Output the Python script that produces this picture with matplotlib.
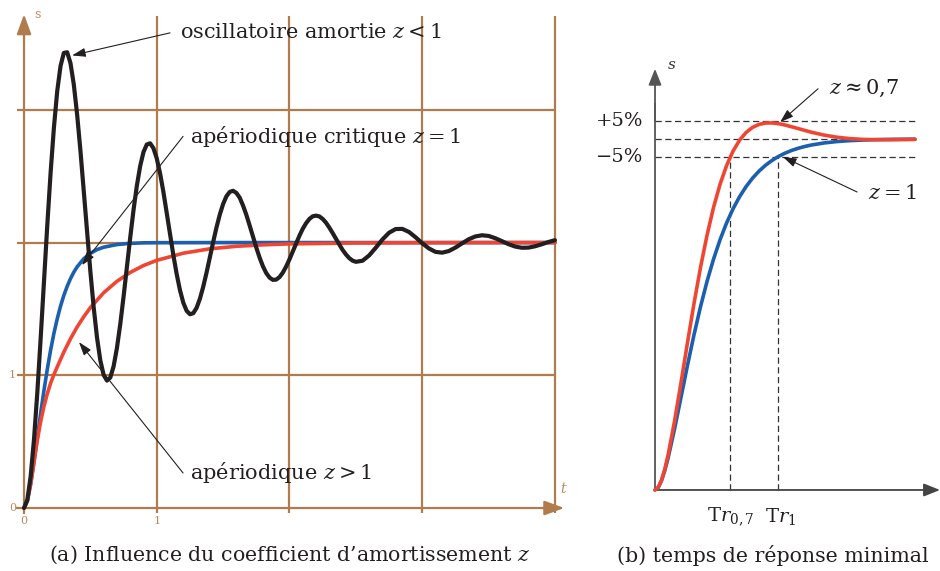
import matplotlib
matplotlib.use("Agg")
import matplotlib.pyplot as plt

plt.rcParams['font.family'] = ['DejaVu Serif']
plt.rcParams['mathtext.fontset'] = 'dejavuserif'

# ---- (a) step responses, t in s, s(t) with final value 2 ----
t_osc = [0.0, 0.025, 0.05, 0.075, 0.1, 0.125, 0.15, 0.175, 0.2, 0.225, 0.25,
         0.275, 0.3, 0.325, 0.35, 0.375, 0.4, 0.425, 0.45, 0.475, 0.5,
         0.525, 0.55, 0.575, 0.6, 0.625, 0.65, 0.675, 0.7, 0.725, 0.75,
         0.775, 0.8, 0.825, 0.85, 0.875, 0.9, 0.925, 0.95, 0.975, 1.0,
         1.025, 1.05, 1.075, 1.1, 1.125, 1.15, 1.175, 1.2, 1.225, 1.25,
         1.275, 1.3, 1.325, 1.35, 1.375, 1.4, 1.425, 1.45, 1.475, 1.5,
         1.525, 1.55, 1.575, 1.6, 1.625, 1.65, 1.675, 1.7, 1.725, 1.75,
         1.775, 1.8, 1.825, 1.85, 1.875, 1.9, 1.925, 1.95, 1.975, 2.0,
         2.025, 2.05, 2.075, 2.1, 2.125, 2.15, 2.175, 2.2, 2.225, 2.25,
         2.275, 2.3, 2.325, 2.35, 2.375, 2.4, 2.425, 2.45, 2.475, 2.5,
         2.55, 2.6, 2.65, 2.7, 2.75, 2.8, 2.85, 2.9, 2.95, 3.0,
         3.05, 3.1, 3.15, 3.2, 3.25, 3.3, 3.35, 3.4, 3.45, 3.5,
         3.55, 3.6, 3.65, 3.7, 3.75, 3.8, 3.85, 3.9, 3.95, 4.0]
s_osc = [0.000, 0.062, 0.239, 0.515, 0.868, 1.273, 1.702, 2.127, 2.523, 2.864, 3.140,
         3.330, 3.429, 3.434, 3.352, 3.191, 2.965, 2.692, 2.390, 2.081, 1.781,
         1.510, 1.283, 1.111, 1.002, 0.960, 0.983, 1.068, 1.206, 1.385, 1.593,
         1.815, 2.037, 2.246, 2.428, 2.576, 2.682, 2.739, 2.748, 2.711, 2.634,
         2.521, 2.382, 2.224, 2.063, 1.906, 1.763, 1.641, 1.547, 1.486, 1.460,
         1.468, 1.508, 1.576, 1.667, 1.773, 1.888, 2.004, 2.114, 2.211, 2.291,
         2.349, 2.382, 2.390, 2.374, 2.338, 2.279, 2.209, 2.128, 2.044, 1.962,
         1.886, 1.821, 1.770, 1.736, 1.719, 1.721, 1.740, 1.774, 1.820, 1.874,
         1.934, 1.994, 2.052, 2.104, 2.146, 2.178, 2.198, 2.203, 2.197, 2.178,
         2.150, 2.113, 2.072, 2.029, 1.986, 1.945, 1.911, 1.883, 1.864, 1.855,
         1.863, 1.903, 1.961, 2.023, 2.074, 2.102, 2.103, 2.080, 2.040, 1.995,
         1.956, 1.930, 1.924, 1.936, 1.962, 1.994, 2.025, 2.046, 2.055, 2.050,
         2.033, 2.011, 1.988, 1.970, 1.961, 1.962, 1.972, 1.987, 2.004, 2.018]

t_crit = [0.0, 0.025, 0.05, 0.075, 0.1, 0.125, 0.15, 0.175, 0.2, 0.225, 0.25,
          0.275, 0.3, 0.325, 0.35, 0.375, 0.4, 0.45, 0.5, 0.55, 0.6, 0.7,
          0.8, 0.9, 1.0, 1.5, 2.0, 3.0, 4.0]
s_crit = [0.0, 0.053, 0.180, 0.347, 0.528, 0.711, 0.884, 1.044, 1.188, 1.315, 1.425,
          1.521, 1.602, 1.670, 1.728, 1.777, 1.817, 1.878, 1.919, 1.947, 1.965, 1.985,
          1.994, 1.998, 1.999, 2.0, 2.0, 2.0, 2.0]

t_aper = [0.0, 0.025, 0.05, 0.075, 0.1, 0.125, 0.15, 0.175, 0.2, 0.225, 0.25,
          0.3, 0.35, 0.4, 0.45, 0.5, 0.6, 0.7, 0.8, 0.9, 1.0, 1.2, 1.4, 1.6,
          1.8, 2.0, 2.5, 3.0, 3.5, 4.0]
s_aper = [0.0, 0.053, 0.18, 0.345, 0.51, 0.65, 0.765, 0.86, 0.94, 1.005, 1.063,
          1.175, 1.275, 1.364, 1.441, 1.51, 1.622, 1.708, 1.775, 1.827, 1.866, 1.920,
          1.953, 1.972, 1.983, 1.990, 1.997, 1.999, 2.0, 2.0]

grid_t = [1, 2, 3, 4]
grid_s = [1, 2, 3]
xtick_labels = ['0', '1']
ytick_labels = ['0', '1']

# ---- (b) normalised responses vs wn*t ----
a_vals = [0.0, 0.125, 0.25, 0.375, 0.5, 0.75, 1.0, 1.25, 1.5, 1.75, 2.0, 2.25, 2.5, 2.75, 3.0,
          3.25, 3.5, 3.75, 4.0, 4.25, 4.5, 4.75, 5.0, 5.25, 5.5, 5.75, 6.0,
          6.5, 7.0, 7.5, 8.0, 8.5, 9.0, 9.5, 10.0]
s_z07 = [0.0, 0.0074, 0.0277, 0.0592, 0.0984, 0.1954, 0.3059, 0.4202, 0.5313, 0.6341, 0.7256, 0.8048,
         0.8706, 0.9237, 0.9653, 0.9964, 1.0184, 1.0330, 1.0416, 1.0454, 1.0458, 1.0436,
         1.0398, 1.0349, 1.0298, 1.0246, 1.0196, 1.0111, 1.0049, 1.0010, 0.9988, 0.9980,
         0.9979, 0.9983, 0.9987]
s_z1 = [0.0, 0.0072, 0.0265, 0.0550, 0.0902, 0.1733, 0.2642, 0.3554, 0.4422, 0.5221, 0.5940, 0.6575,
        0.7127, 0.7603, 0.8009, 0.8352, 0.8641, 0.8883, 0.9084, 0.9251, 0.9389, 0.9503,
        0.9596, 0.9672, 0.9734, 0.9785, 0.9826, 0.9887, 0.9927, 0.9953, 0.9970, 0.9981,
        0.9988, 0.9992, 0.9995]
band_levels = [1.05, 1.0, 0.95]
band_labels = ['+5%', '\u22125%']
tr_07 = 2.9
tr_1 = 4.74

BROWN = '#b07b4d'
TICKC = '#b98a60'
BLACK = '#231f20'
BLUE = '#1b5fae'
RED = '#ef4634'
GRAY = '#333333'
curve_kw = dict(solid_joinstyle='round', solid_capstyle='round')

fig = plt.figure(figsize=(9.4, 5.71), dpi=100)

# ================= panel (a) =================
ax = fig.add_axes([0, 1 - 540 / 571, 575 / 940, 535 / 571])
ax.set_xlim(-0.181, 4.151)
ax.set_ylim(-0.241, 3.790)
ax.axis('off')

for g in grid_t:
    ax.plot([g, g], [-0.04, 3.71], color=BROWN, lw=1.6, zorder=1, solid_capstyle='butt')
for g in grid_s:
    ax.plot([-0.05, 4.0], [g, g], color=BROWN, lw=1.6, zorder=1, solid_capstyle='butt')
ax.plot([-0.05, 0], [0, 0], color=BROWN, lw=1.6, zorder=1)
ax.plot([0, 0], [-0.04, 0], color=BROWN, lw=1.6, zorder=1)
axis_arrow = dict(arrowstyle='-|>,head_length=0.6,head_width=0.22', color=BROWN,
                  lw=1.6, mutation_scale=20, shrinkA=0, shrinkB=0)
ax.annotate('', xy=(0, 3.72), xytext=(0, 0), arrowprops=axis_arrow, zorder=1)
ax.annotate('', xy=(4.07, 0), xytext=(0, 0), arrowprops=axis_arrow, zorder=1)

for i, lab in enumerate(xtick_labels):
    ax.text(i, -0.06, lab, color=TICKC, fontsize=8, ha='center', va='top')
for i, lab in enumerate(ytick_labels):
    ax.text(-0.06, i, lab, color=TICKC, fontsize=8, ha='right', va='center')
ax.text(0.08, 3.72, 's', color=TICKC, fontsize=9, ha='left', va='center')
ax.text(4.07, 0.09, '$t$', color=TICKC, fontsize=10, ha='center', va='bottom')

ax.plot(t_crit, s_crit, color=BLUE, lw=2.6, zorder=3, **curve_kw)
ax.plot(t_aper, s_aper, color=RED, lw=2.6, zorder=4, **curve_kw)
ax.plot(t_osc, s_osc, color=BLACK, lw=3.0, zorder=5, **curve_kw)

note_arrow = dict(arrowstyle='-|>,head_length=0.9,head_width=0.3', color=BLACK,
                  lw=0.8, mutation_scale=9, shrinkA=0, shrinkB=0)
ax.annotate('', xy=(0.362, 3.41), xytext=(1.10, 3.58), arrowprops=note_arrow, zorder=6)
ax.text(1.175, 3.58, 'oscillatoire amortie $z<1$', fontsize=15, color=BLACK,
        ha='left', va='center')
ax.annotate('', xy=(0.437, 1.83), xytext=(1.198, 2.80), arrowprops=note_arrow, zorder=6)
ax.text(1.25, 2.80, 'apériodique critique $z=1$', fontsize=15, color=BLACK,
        ha='left', va='center')
ax.annotate('', xy=(0.414, 1.25), xytext=(1.198, 0.264), arrowprops=note_arrow, zorder=6)
ax.text(1.25, 0.264, 'apériodique $z>1$', fontsize=15, color=BLACK,
        ha='left', va='center')

# ================= panel (b) =================
bx = fig.add_axes([590 / 940, 1 - 540 / 571, 350 / 940, 500 / 571])
bx.set_xlim(-2.5, 10.96)
bx.set_ylim(-0.1425, 1.282)
bx.axis('off')

dash = (0, (5, 2.8))
for lvl in band_levels:
    bx.plot([0, 10.1], [lvl, lvl], color=GRAY, lw=0.9, ls=dash, zorder=1)
for tr in (tr_07, tr_1):
    bx.plot([tr, tr], [0, 0.95], color=GRAY, lw=0.9, ls=dash, zorder=1)

bx.plot([0, 0], [0, 1.10], color='#555555', lw=1.3, zorder=2)
bx.annotate('', xy=(0, 1.20), xytext=(0, 1.05),
            arrowprops=dict(arrowstyle='-|>,head_length=0.7,head_width=0.28', color='#555555',
                            lw=1.3, mutation_scale=14, shrinkA=0, shrinkB=0), zorder=2)
bx.annotate('', xy=(10.96, 0), xytext=(0, 0),
            arrowprops=dict(arrowstyle='-|>,head_length=0.7,head_width=0.28', color='#444444',
                            lw=1.3, mutation_scale=14, shrinkA=0, shrinkB=0), zorder=2)
bx.text(0.45, 1.21, '$s$', fontsize=11, color=GRAY, ha='left', va='center')

bx.plot(a_vals, s_z1, color=BLUE, lw=2.6, zorder=3, **curve_kw)
bx.plot(a_vals, s_z07, color=RED, lw=2.6, zorder=4, **curve_kw)

bx.text(-0.45, 1.05, band_labels[0], fontsize=14, color=BLACK, ha='right', va='center')
bx.text(-0.45, 0.95, band_labels[1], fontsize=14, color=BLACK, ha='right', va='center')
bx.text(tr_07, -0.045, r'$\mathrm{T}r_{0,7}$', fontsize=14, color=BLACK, ha='center', va='top')
bx.text(tr_1 + 0.1, -0.045, r'$\mathrm{T}r_{1}$', fontsize=14, color=BLACK, ha='center', va='top')

bx.annotate('', xy=(4.81, 1.048), xytext=(6.27, 1.143), arrowprops=note_arrow, zorder=6)
bx.text(6.7, 1.143, r'$z\approx 0{,}7$', fontsize=15, color=BLACK, ha='left', va='center')
bx.annotate('', xy=(4.92, 0.949), xytext=(7.77, 0.849), arrowprops=note_arrow, zorder=6)
bx.text(8.19, 0.846, r'$z=1$', fontsize=15, color=BLACK, ha='left', va='center')

# captions
fig.text(290 / 940, 1 - 555 / 571, '(a) Influence du coefficient d\u2019amortissement $z$',
         fontsize=14.8, color=BLACK, ha='center', va='center')
fig.text(773 / 940, 1 - 555 / 571, '(b) temps de réponse minimal',
         fontsize=14.8, color=BLACK, ha='center', va='center')

fig.savefig('out.png', dpi=100)
